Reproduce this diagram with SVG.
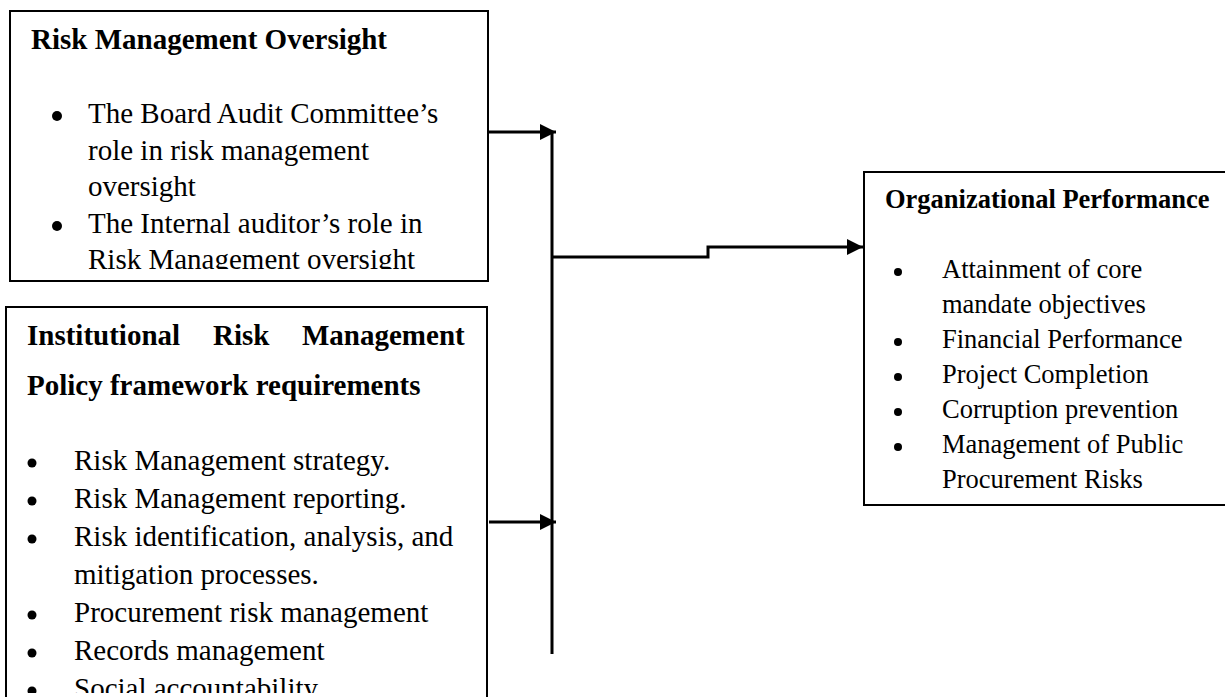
<svg xmlns="http://www.w3.org/2000/svg" width="1225" height="697" viewBox="0 0 1225 697">
  <style>
    .box { fill: #ffffff; stroke: #000000; stroke-width: 2; }
    .t { font-family: "Liberation Serif", "Times New Roman", serif; fill: #000000; }
    .h { font-weight: bold; font-size: 29px; }
    .b { font-size: 29px; }
    .h2 { font-weight: bold; font-size: 26.5px; }
    .b2 { font-size: 26.5px; }
    .dot { fill: #000000; }
    .conn { fill: none; stroke: #000000; stroke-width: 3; }
  </style>
  <defs>
    <marker id="arrow" markerUnits="userSpaceOnUse" markerWidth="16" markerHeight="16" refX="16" refY="8" orient="auto">
      <path d="M0,0 L16,8 L0,16 Z" fill="#000000"/>
    </marker>
    <clipPath id="clip1"><rect x="10" y="11" width="478" height="258"/></clipPath>
    <clipPath id="clip2"><rect x="6" y="307" width="481" height="386"/></clipPath>
  </defs>
  <rect x="0" y="0" width="1225" height="697" fill="#ffffff"/>

  <g id="node-oversight">
    <rect class="box" x="10" y="11" width="478" height="270"/>
    <g clip-path="url(#clip1)">
      <text class="t h" x="31" y="49">Risk Management Oversight</text>
      <circle class="dot" cx="57" cy="116" r="5"/>
      <text class="t b" x="88" y="123">The Board Audit Committee’s</text>
      <text class="t b" x="88" y="159.5">role in risk management</text>
      <text class="t b" x="88" y="196">oversight</text>
      <circle class="dot" cx="57" cy="226" r="5"/>
      <text class="t b" x="88" y="232.5">The Internal auditor’s role in</text>
      <text class="t b" x="88" y="269">Risk Management oversight</text>
    </g>
  </g>

  <g id="node-policy">
    <rect class="box" x="6" y="307" width="481" height="410"/>
    <g clip-path="url(#clip2)">
      <text class="t h" x="27" y="345">Institutional</text>
      <text class="t h" x="213" y="345">Risk</text>
      <text class="t h" x="302" y="345">Management</text>
      <text class="t h" x="27" y="395">Policy framework requirements</text>
      <circle class="dot" cx="32" cy="463" r="4.5"/>
      <text class="t b" x="74" y="470">Risk Management strategy.</text>
      <circle class="dot" cx="32" cy="501" r="4.5"/>
      <text class="t b" x="74" y="508">Risk Management reporting.</text>
      <circle class="dot" cx="32" cy="539" r="4.5"/>
      <text class="t b" x="74" y="546">Risk identification, analysis, and</text>
      <text class="t b" x="74" y="584">mitigation processes.</text>
      <circle class="dot" cx="32" cy="615" r="4.5"/>
      <text class="t b" x="74" y="622">Procurement risk management</text>
      <circle class="dot" cx="32" cy="653" r="4.5"/>
      <text class="t b" x="74" y="660">Records management</text>
      <circle class="dot" cx="32" cy="691" r="4.5"/>
      <text class="t b" x="74" y="698">Social accountability</text>
    </g>
  </g>

  <g id="node-performance">
    <rect class="box" x="864" y="172" width="380" height="333"/>
    <text class="t h2" x="885" y="208">Organizational Performance</text>
    <circle class="dot" cx="898" cy="272" r="4"/>
    <text class="t b2" x="942" y="278">Attainment of core</text>
    <text class="t b2" x="942" y="313">mandate objectives</text>
    <circle class="dot" cx="898" cy="342" r="4"/>
    <text class="t b2" x="942" y="348">Financial Performance</text>
    <circle class="dot" cx="898" cy="377" r="4"/>
    <text class="t b2" x="942" y="383">Project Completion</text>
    <circle class="dot" cx="898" cy="412" r="4"/>
    <text class="t b2" x="942" y="418">Corruption prevention</text>
    <circle class="dot" cx="898" cy="447" r="4"/>
    <text class="t b2" x="942" y="453">Management of Public</text>
    <text class="t b2" x="942" y="488">Procurement Risks</text>
  </g>

  <g id="connectors">
    <line class="conn" x1="489" y1="132" x2="556" y2="132" marker-end="url(#arrow)"/>
    <line class="conn" x1="489" y1="522" x2="556" y2="522" marker-end="url(#arrow)"/>
    <line class="conn" x1="552" y1="132" x2="552" y2="654"/>
    <polyline class="conn" points="552,257 708,257 708,247 863,247" marker-end="url(#arrow)"/>
  </g>
</svg>
